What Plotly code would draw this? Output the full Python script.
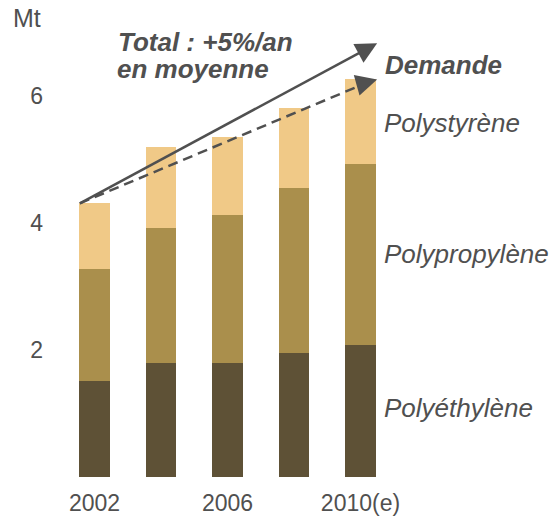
import plotly.graph_objects as go

years = ["2002", "2004", "2006", "2008", "2010(e)"]
tick_labels = ["2002", "", "2006", "", "2010(e)"]
polyethylene = [1.51, 1.80, 1.80, 1.95, 2.08]
polypropylene = [1.77, 2.12, 2.33, 2.60, 2.85]
polystyrene = [1.03, 1.28, 1.22, 1.26, 1.34]
series_names = ["Polyéthylène", "Polypropylène", "Polystyrène"]
colors = ["#5E5136", "#AA8F4C", "#F0C987"]
y_ticks = [2, 4, 6]

# arrow endpoints (total growth and demand)
arrow_start = (-0.22, 4.31)
total_end = (4.25, 6.83)
demand_end = (4.25, 6.26)

FONT = "Liberation Sans, Arial, sans-serif"
TXT = "#505050"

PX_UNIT_X = 66.5
PX_UNIT_Y = 63.5
BAR0_X = 94.5     # first bar centre in px
ZERO_Y = 477      # zero line in px
L = 44
W, H = 552, 525

xpos = list(range(len(years)))
fig = go.Figure()
for name, vals, col in zip(series_names, [polyethylene, polypropylene, polystyrene], colors):
    fig.add_trace(go.Bar(x=xpos, y=vals, name=name, marker=dict(color=col, line=dict(width=0)),
                         width=0.466, showlegend=False, hoverinfo="skip"))

# arrow lines
fig.add_trace(go.Scatter(x=[arrow_start[0], total_end[0] - 0.12], y=[arrow_start[1], total_end[1] - 0.068],
                         mode="lines", line=dict(color=TXT, width=2.5), showlegend=False, hoverinfo="skip"))
fig.add_trace(go.Scatter(x=[arrow_start[0], demand_end[0] - 0.12], y=[arrow_start[1], demand_end[1] - 0.035],
                         mode="lines", line=dict(color=TXT, width=2.5, dash="10px,6px"), showlegend=False,
                         hoverinfo="skip"))

anns = []
for end, dy in [(total_end, 0.068), (demand_end, 0.035)]:
    anns.append(dict(x=end[0], y=end[1], ax=end[0] - 0.3, ay=end[1] - dy * 2.5, xref="x", yref="y",
                     axref="x", ayref="y", showarrow=True, arrowhead=2, arrowsize=1.7, arrowwidth=2.5,
                     arrowcolor=TXT, text=""))


def ann(text, px, py, size, bold=False, italic=True, anchor="left"):
    t = text
    if bold:
        t = "<b>" + t + "</b>"
    if italic:
        t = "<i>" + t + "</i>"
    return dict(x=(px - BAR0_X) / PX_UNIT_X, y=(ZERO_Y - py) / PX_UNIT_Y, xref="x", yref="y", text=t,
                showarrow=False, xanchor=anchor, yanchor="middle",
                font=dict(family=FONT, size=size, color=TXT))


anns.append(ann("Total : +5%/an", 116, 42, 26, bold=True))
anns.append(ann("en moyenne", 115, 69, 26, bold=True))
anns.append(ann("Demande", 383, 65, 26, bold=True))
anns.append(ann("Polystyrène", 382, 123, 26))
anns.append(ann("Polypropylène", 382, 254, 26))
anns.append(ann("Polyéthylène", 382, 408, 26))

plot_w = W - L
anns.append(dict(x=(27 - L) / plot_w, y=(ZERO_Y - 18) / ZERO_Y, xref="paper", yref="paper",
                 text="Mt", showarrow=False, xanchor="center", yanchor="middle",
                 font=dict(family=FONT, size=25, color=TXT)))

fig.update_layout(
    width=W, height=H, margin=dict(l=L, r=0, t=0, b=H - ZERO_Y),
    paper_bgcolor="white", plot_bgcolor="white", barmode="stack", bargap=0,
    font=dict(family=FONT, size=23, color=TXT),
    xaxis=dict(range=[-(BAR0_X - L) / PX_UNIT_X, (W - BAR0_X) / PX_UNIT_X], tickvals=xpos,
               ticktext=tick_labels, showgrid=False, zeroline=False, showline=False, ticks="",
               ticklabelstandoff=10, tickfont=dict(size=23, color=TXT)),
    yaxis=dict(range=[0, ZERO_Y / PX_UNIT_Y], tickvals=y_ticks, showgrid=False, zeroline=False,
               showline=False, ticks="", tickfont=dict(size=23, color=TXT)),
    annotations=anns,
)
fig.write_html("out.html", config={"displayModeBar": False},
               post_script="document.body.style.margin='0';document.body.style.overflow='hidden';")
